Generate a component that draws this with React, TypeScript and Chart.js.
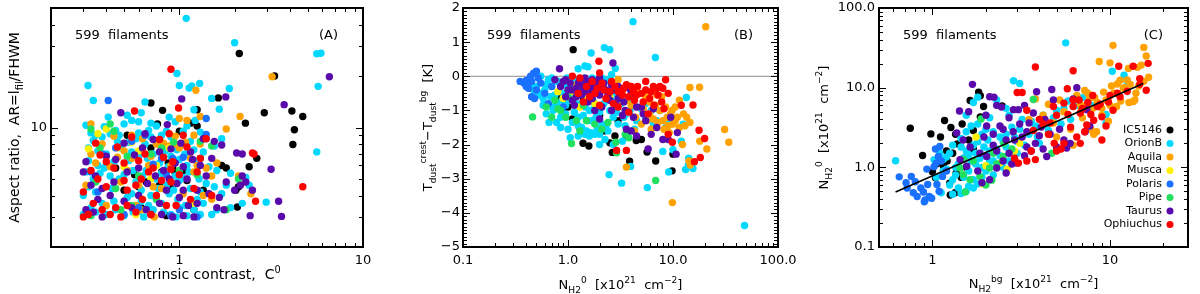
import React, { useEffect, useRef } from 'react';
import { Chart, registerables } from 'chart.js';

Chart.register(...registerables);

const FONT = '"DejaVu Sans", "Liberation Sans", sans-serif';

const regionNames = ['IC5146', 'OrionB', 'Aquila', 'Musca', 'Polaris', 'Pipe', 'Taurus', 'Ophiuchus'];
const regionColors = ['#000000', '#00d8ff', '#ffa200', '#fff000', '#1a70ff', '#20e060', '#5a0aaa', '#ff0000'];

// ---------- Panel A: intrinsic contrast C0 vs aspect ratio ----------
const aIC5146 = [[2.12,27.1],[3.3,20],[2.9,12.2],[4.1,12.5],[4.7,11.6],[2.29,10.6],[4.23,9.7],[4.15,7.95],[2.64,6.6],[1.63,14.9],[0.7,13.9],[0.81,12.6],[2.07,3.43],[2.03,4.3],[2.1,4.5],[0.76,10.5],[1.15,10.6],[1.25,12.7],[0.52,9.0],[0.57,5.3],[0.6,4.5],[0.5,4.3],[0.62,3.4],[0.66,4.8],[0.7,7.6],[0.85,3.05],[0.95,5.4],[0.98,5.2],[1.05,5.6],[1.35,4.3],[1.3,6.6],[1.8,5.8],[1.0,9.5],[1.25,10.2],[2.4,5.9],[0.45,5.8],[1.7,6.0],[0.9,4.4],[0.8,5.5],[0.87,6.2],[0.92,5.8],[1.1,4.9],[0.78,4.6],[1.2,3.3]];
const aOrionB = [[1.09,43.5],[2.0,31.3],[5.6,27.0],[5.9,27.2],[0.97,20.7],[5.7,17.4],[1.29,18.1],[1.13,17.0],[1.17,17.5],[1.0,17.6],[0.318,17.6],[0.34,14.4],[0.65,14.1],[1.87,16.9],[1.5,14.8],[1.2,12.7],[5.6,7.2],[2.97,3.66],[1.65,12.8],[0.31,10.3],[0.33,9.3],[0.35,9.0],[0.38,8.8],[0.42,9.2],[0.45,9.6],[0.5,10.5],[0.55,11.0],[0.6,10.8],[0.62,12.2],[0.7,10.6],[0.75,10.2],[0.8,9.0],[0.85,9.5],[0.95,10.8],[1.05,9.5],[1.1,10.2],[1.3,9.4],[1.4,8.6],[1.55,7.8],[1.7,8.6],[0.32,7.6],[0.36,7.3],[0.4,7.0],[0.48,7.6],[0.55,7.2],[0.6,6.8],[0.65,8.0],[0.72,7.0],[0.78,6.2],[0.9,6.8],[1.0,6.5],[1.1,6.0],[1.25,6.3],[1.45,5.9],[1.6,5.6],[1.9,5.4],[2.3,5.1],[0.31,5.5],[0.34,5.0],[0.37,5.4],[0.42,5.2],[0.5,5.3],[0.58,4.8],[0.66,5.6],[0.75,5.0],[0.85,4.6],[0.95,5.2],[1.0,4.9],[1.05,5.1],[1.15,4.4],[1.3,4.2],[0.3,3.1],[0.33,3.4],[0.38,3.6],[0.45,3.3],[0.52,3.9],[0.6,3.2],[0.68,3.5],[0.75,3.8],[0.82,3.2],[0.9,3.1],[1.0,3.4],[1.1,3.05],[1.2,3.3],[1.35,3.6],[1.5,3.1],[0.35,4.2],[0.43,4.4],[0.55,4.1],[0.62,4.3],[0.7,4.0],[0.88,4.1],[1.25,3.8],[1.7,4.1],[2.4,4.6],[0.41,11.5],[0.52,11.8],[0.68,9.6],[0.88,11.5],[1.22,11.0],[0.46,8.3],[0.58,8.6],[0.7,8.8],[0.32,6.4],[0.4,6.0],[0.84,7.3],[1.15,8.3],[0.3,4.0],[0.32,4.5],[0.36,6.0],[0.39,5.8],[0.44,6.3],[0.47,5.0],[0.53,6.4],[0.56,5.6],[0.63,5.2],[0.67,6.6],[0.73,5.9],[0.77,4.4],[0.8,5.4],[0.87,5.9],[0.93,4.3],[0.97,7.4],[1.07,7.0],[1.13,5.5],[1.18,3.6],[1.28,5.0],[1.4,4.7],[1.55,4.5],[1.8,4.6],[0.35,3.2],[0.4,3.1],[0.5,3.05],[0.56,3.2],[0.64,3.0],[0.72,3.3],[0.8,3.6],[0.96,3.0],[1.08,3.5],[1.3,3.1],[0.34,8.4],[0.39,10.1],[0.47,9.0],[0.53,8.2],[0.6,9.3],[0.76,8.4],[0.9,8.8],[1.02,7.9],[1.2,7.4],[1.35,7.2],[0.44,3.7],[0.62,3.7],[0.98,3.8],[1.6,3.3],[1.9,3.4],[2.2,3.6]];
const aAquila = [[3.2,19.8],[2.14,11.6],[1.23,16.5],[0.33,10.5],[0.31,4.6],[0.35,6.2],[0.38,8.0],[0.42,5.9],[0.46,6.7],[0.5,7.3],[0.55,9.0],[0.58,3.5],[0.63,8.6],[0.68,6.0],[0.72,4.5],[0.78,7.9],[0.82,8.1],[0.85,5.5],[0.88,7.8],[0.95,8.0],[1.0,11.3],[1.1,11.0],[1.2,9.0],[1.25,6.0],[1.35,4.0],[1.4,5.8],[1.5,3.8],[1.6,6.2],[1.8,9.8],[2.1,5.2],[2.45,4.1],[1.05,4.1],[0.62,3.3],[0.73,3.0],[1.3,11.6],[0.48,4.8],[0.75,8.0],[0.33,7.0],[0.44,8.9],[0.52,5.6],[0.6,4.6],[0.7,6.8],[0.9,6.0],[1.0,7.6],[1.15,6.6],[1.3,8.0],[1.5,5.2],[0.4,3.5],[0.8,4.4],[0.95,8.9],[1.08,8.2],[1.2,5.5],[0.55,6.6]];
const aMusca = [[0.32,7.5],[0.36,9.2],[0.4,9.8],[0.46,7.6],[0.5,5.9],[0.55,8.2],[0.58,3.1],[0.7,5.0],[0.88,7.6],[0.6,7.3],[1.2,3.6],[0.75,6.0]];
const aPolaris = [[0.41,14.4],[0.33,5.5],[0.36,4.2],[0.38,7.0],[0.45,7.6],[0.5,3.1],[0.55,8.3],[0.6,3.4],[0.65,9.0],[0.72,6.1],[0.8,6.6],[0.9,3.05],[0.92,6.6],[1.05,6.7],[1.25,3.0],[1.4,9.1],[1.4,11.3],[1.0,3.3],[0.85,5.3]];
const aPipe = [[0.33,9.8],[0.37,7.6],[0.42,10.5],[0.44,9.5],[0.45,4.4],[0.52,6.8],[0.6,5.2],[0.7,7.0],[0.75,3.8],[0.8,7.6],[0.93,8.2],[1.0,5.6],[1.25,5.3],[1.3,8.3],[1.8,3.3],[0.35,4.8],[0.48,3.3],[0.33,3.05],[0.55,3.5],[2.1,5.0],[1.5,7.8]];
const aTaurus = [[6.56,19.8],[3.72,13.6],[3.16,5.7],[3.47,3.7],[3.6,3.02],[2.43,3.05],[2.2,7.0],[1.79,15.1],[1.03,14.7],[0.31,6.3],[0.3,5.5],[0.33,4.6],[0.36,3.8],[0.34,3.2],[0.38,3.0],[0.42,4.0],[0.45,6.5],[0.48,12.2],[0.5,8.1],[0.55,3.4],[0.6,5.8],[0.63,7.6],[0.67,4.7],[0.72,8.5],[0.78,7.2],[0.82,5.6],[0.85,4.3],[0.9,7.5],[0.92,3.0],[0.95,6.2],[1.0,3.9],[1.02,8.1],[1.05,3.05],[1.1,5.0],[1.15,7.2],[1.2,3.0],[1.3,6.0],[1.35,8.6],[1.45,4.1],[1.55,8.3],[1.6,3.4],[1.65,3.9],[1.75,3.3],[2.0,4.3],[2.05,7.1],[2.3,4.8],[2.5,4.3],[0.86,10.4],[0.65,9.2],[0.4,6.8],[1.7,7.9],[0.78,3.6],[0.7,3.1],[1.25,4.3],[1.05,5.9],[2.2,5.2],[2.15,4.6],[0.31,3.3],[0.35,5.2],[0.44,4.8],[0.52,5.5],[0.57,6.9],[0.66,3.3],[0.74,5.2],[0.8,3.1],[0.88,5.0],[0.97,4.7],[1.12,3.5],[1.18,6.5],[1.25,3.6],[1.4,5.2],[1.5,6.6],[1.8,4.8],[0.6,4.0],[0.5,3.7],[1.05,4.3],[0.38,4.4]];
const aOphiuchus = [[0.9,21.9],[4.7,4.5],[2.5,7.1],[0.57,12.5],[0.99,13.0],[0.3,3.0],[0.32,3.1],[0.33,5.6],[0.35,8.1],[0.37,6.9],[0.4,4.5],[0.42,3.1],[0.44,5.8],[0.46,7.7],[0.48,3.0],[0.5,6.2],[0.52,4.3],[0.55,8.8],[0.58,3.2],[0.6,6.4],[0.62,5.0],[0.65,7.0],[0.7,3.1],[0.75,4.0],[0.78,8.5],[0.82,6.7],[0.88,9.2],[0.9,4.8],[0.92,6.3],[1.0,5.3],[1.05,9.0],[1.1,7.7],[1.2,4.4],[1.3,6.6],[1.4,8.6],[1.5,4.0],[2.6,3.7],[2.55,7.0],[0.68,5.5],[0.85,3.5],[0.58,4.6],[0.3,4.2],[0.34,3.6],[0.38,3.3],[0.45,3.4],[0.52,3.5],[0.63,3.8],[0.72,5.8],[0.8,4.9],[0.96,3.5],[1.15,3.8],[0.4,6.3],[0.5,4.9],[0.9,5.7],[1.25,5.5],[0.36,5.0]];

// ---------- Panel B: N_H2^0 vs T_dust difference ----------
const bIC5146 = [[1.12,0.78],[1.29,-1.5],[1.39,-1.96],[1.58,-2.04],[2.64,-2.23],[2.5,-1.95],[3.86,-2.49],[6.84,-2.48],[9.8,-2.77],[10,-2.28],[5.66,-2.22],[4.47,-1.88],[3.6,-1.75],[0.45,-0.35],[0.8,-0.6],[0.9,-1.05],[1.0,-0.9],[1.1,-1.25],[2.2,-1.6],[3.0,-1.3],[2.0,-1.15],[5.0,-1.85],[1.4,-0.7],[2.8,-1.75]];
const bOrionB = [[4.16,1.6],[2.22,0.84],[2.5,0.78],[1.66,0.68],[6.8,0.55],[1.25,0.22],[1.45,0.3],[1.55,0.28],[2.82,0.23],[0.48,0.08],[0.55,0.0],[0.65,-0.1],[0.7,-0.3],[0.75,-0.55],[0.6,-0.4],[0.8,-0.15],[0.9,-0.5],[0.95,-0.85],[1.0,-0.3],[1.1,-0.6],[1.15,-1.05],[1.2,-0.1],[1.3,-0.45],[1.35,-0.8],[1.4,-1.15],[1.5,-1.6],[1.6,-0.5],[1.7,-1.3],[1.8,-0.9],[1.9,-1.55],[2.0,-1.7],[2.2,-0.35],[2.3,-1.45],[2.5,-1.0],[2.7,-1.2],[2.8,-0.5],[3.0,-1.4],[3.3,-1.9],[3.6,-1.1],[4.0,-0.7],[4.5,-1.3],[5.0,-0.95],[5.5,-1.2],[6.5,-1.4],[7.5,-1.0],[8.0,-2.2],[8.5,-1.5],[12.5,-1.4],[13.4,-0.62],[14.1,-2.4],[15.5,-2.7],[13.2,-2.73],[48,-4.37],[5.7,-3.26],[3.24,-3.13],[2.46,-2.88],[3.95,-2.64],[9.1,-2.8],[10,-2.15],[2.7,-2.0],[0.85,-1.2],[0.78,-1.35],[0.62,-1.1],[0.72,-0.9],[0.52,-0.55],[0.45,-0.3],[0.58,-0.65],[1.05,-1.8],[1.25,-1.75],[1.45,-1.7],[1.65,-1.65],[1.8,-1.7],[3.5,-1.45],[2.1,-0.05],[1.9,-0.25],[0.98,-0.05],[6.2,-1.0],[0.4,-0.2],[0.5,-0.3],[0.55,-0.5],[0.62,-0.25],[0.68,-0.6],[0.7,-0.05],[0.78,-0.8],[0.82,-0.45],[0.88,-0.7],[0.95,-1.1],[1.0,-0.7],[1.05,-0.4],[1.1,-1.35],[1.2,-0.8],[1.25,-1.2],[1.35,-1.5],[1.45,-0.9],[1.55,-1.3],[1.6,-1.0],[1.75,-0.75],[1.85,-1.2],[2.0,-1.05],[2.1,-1.4],[2.2,-0.8],[2.4,-1.6],[2.6,-0.7],[2.9,-1.05],[3.2,-0.8],[3.4,-1.2],[3.9,-1.0],[4.3,-1.55],[0.58,-0.85],[0.66,-1.35],[0.85,-1.5],[0.92,-0.25],[1.15,-0.2],[1.3,-0.1],[1.7,-0.05],[2.4,-0.1],[2.6,0.05],[0.48,-0.45],[0.72,-1.0],[1.0,-1.55],[1.25,-1.45],[1.6,-1.75],[2.0,-2.0],[2.25,-1.85],[5.5,-0.8],[7.0,-1.3],[9.0,-1.35],[12,-1.9],[14,-2.6]];
const bAquila = [[20.5,1.45],[17.9,-0.32],[3.0,-0.1],[3.3,-0.4],[3.6,-0.7],[4.0,-0.85],[4.4,-1.2],[4.8,-0.5],[5.2,-0.95],[5.6,-1.3],[6.0,-0.75],[6.5,-1.25],[7.0,-0.55],[7.5,-1.0],[8.0,-1.3],[8.5,-0.9],[9.0,-1.45],[9.5,-1.1],[10.0,-1.4],[11.0,-1.2],[12.6,-1.1],[13.5,-1.2],[14.5,-1.35],[12.3,-2.0],[14.2,-2.48],[14.6,-2.6],[21,-2.13],[31,-1.56],[34,-1.93],[9.86,-3.7],[3.6,-2.66],[14.5,-0.33],[11.5,-0.7],[10.5,-0.9],[9.2,-1.65],[8.2,-1.55],[7.2,-1.35],[6.2,-1.55],[5.0,-1.4],[4.3,-1.6],[13.0,-1.45],[18,-1.9],[3.1,-0.6],[2.8,-0.35],[3.8,-0.3],[4.2,-0.55],[5.5,-0.6],[6.8,-0.85],[7.8,-0.6],[8.8,-1.2],[9.8,-1.0],[11.5,-1.5],[10.5,-1.3],[6.0,-1.1]];
const bMusca = [[0.9,-0.65],[1.1,-0.45],[1.3,-0.9],[1.5,-0.7],[1.2,-0.25],[2.5,-0.6],[3.0,-0.85],[0.8,-0.45],[1.8,-0.8]];
const bPolaris = [[0.5,0.15],[0.47,0.09],[0.44,0.0],[0.35,-0.15],[0.38,-0.2],[0.4,-0.12],[0.42,-0.35],[0.45,-0.6],[0.48,-0.65],[0.4,-0.3],[0.5,-0.4],[0.55,-0.2],[0.6,-0.5],[0.45,-0.15],[0.65,-0.8],[0.7,-0.3],[0.9,-0.9],[0.52,-0.05]];
const bPipe = [[0.46,-1.19],[1.08,-1.97],[2.9,-2.24],[2.86,-1.93],[6.84,-3.05],[0.62,-0.9],[0.7,-1.2],[0.75,-0.7],[0.8,-0.95],[0.85,-1.0],[0.95,-1.2],[1.2,-1.3],[1.4,-0.85],[1.5,-1.3],[1.8,-1.4],[2.1,-1.55],[2.4,-1.35],[3.5,-1.7],[3.8,-1.8],[1.3,-1.6],[1.0,-0.6]];
const bTaurus = [[2.68,0.39],[0.83,0.22],[0.75,-0.1],[0.85,-0.3],[0.9,-0.15],[1.0,-0.4],[1.05,-0.2],[1.1,-0.7],[1.2,-0.35],[1.3,-0.1],[1.35,-0.55],[1.4,-0.3],[1.45,-0.05],[1.5,-0.45],[1.6,-0.2],[1.7,-0.65],[1.75,-0.35],[1.9,-0.15],[2.0,-0.55],[2.1,-0.9],[2.3,-0.4],[2.5,-0.7],[2.6,-0.25],[2.9,-0.85],[3.2,-0.5],[3.5,-1.0],[3.8,-0.35],[4.0,-1.6],[4.2,-1.2],[4.5,-1.75],[5.0,-0.9],[5.5,-1.3],[5.8,-2.13],[6.2,-1.7],[7.0,-1.5],[8.0,-1.85],[9.0,-1.85],[10.7,-2.28],[11,-1.65],[9.5,-1.2],[2.0,-1.25],[3.0,-0.3],[1.15,-0.85],[0.95,-0.6],[1.55,-0.75],[2.2,-0.2],[1.8,-1.0],[3.6,-1.55],[6.5,-0.95],[0.95,-0.1],[1.1,-0.4],[1.25,-0.2],[1.4,-0.45],[1.6,-0.4],[1.8,-0.3],[2.05,-0.35],[2.4,-0.55],[2.7,-0.4],[3.0,-0.65],[3.4,-0.75],[4.0,-0.5],[4.5,-0.9],[5.2,-1.1],[1.5,-0.15],[1.7,-0.1],[2.0,-0.05],[1.2,-0.6],[2.6,-1.0],[3.3,-1.15]];
const bOphiuchus = [[1.97,0.44],[2.0,0.1],[1.1,0.0],[1.3,-0.05],[1.5,-0.3],[1.7,-0.15],[1.8,-0.5],[2.1,-0.2],[2.3,-0.65],[2.5,-0.45],[2.8,-0.3],[3.0,-0.9],[3.3,-0.55],[3.6,-0.25],[4.0,-0.3],[4.3,-0.7],[4.6,-0.3],[5.0,-0.5],[5.5,-0.4],[6.0,-0.65],[6.5,-0.3],[7.0,-0.35],[7.5,-0.3],[8.0,-0.35],[8.5,-0.1],[6.6,-0.85],[7.8,-0.75],[5.8,-1.1],[9.0,-1.7],[9.86,-1.93],[12.0,-0.85],[15.5,-0.84],[17.7,-1.58],[20,-1.82],[18.2,-2.38],[16,-2.5],[2.9,-2.17],[3.6,-2.17],[1.4,-0.75],[2.0,-0.85],[3.8,-1.05],[4.5,-0.55],[8.2,-0.95],[1.25,-0.5],[1.6,-0.6],[2.2,-0.4],[2.6,-0.15],[3.0,-0.45],[3.4,-0.35],[3.8,-0.6],[4.2,-0.45],[5.2,-0.75],[6.2,-0.45],[7.2,-0.55],[1.9,-0.35],[2.7,-0.8],[5.5,-0.15],[9.0,-0.5]];

// ---------- Panel C: N_H2^bg vs N_H2^0 ----------
const cIC5146 = [[0.75,3.1],[0.88,1.41],[0.98,2.63],[1.04,0.74],[1.11,2.4],[1.0,0.88],[1.05,1.1],[1.1,1.15],[1.17,3.87],[1.2,1.6],[1.27,3.16],[1.35,2.6],[1.38,1.97],[1.25,0.63],[1.26,0.45],[1.34,0.48],[1.47,3.5],[1.63,6.9],[1.82,8.8],[1.86,7.9],[1.94,5.8],[1.86,4.3],[2.47,5.9],[1.36,0.85],[1.21,1.2],[1.15,1.05],[1.3,1.5],[1.5,1.3],[1.6,2.2],[1.7,1.7],[1.55,1.0],[1.45,0.75],[1.7,2.9]];
const cOrionB = [[0.62,1.21],[5.63,36.5],[2.86,12.2],[3.1,11.3],[10.3,16.1],[12,14.3],[1.8,7.6],[1.7,6.5],[2.3,7.0],[1.55,4.5],[1.25,1.5],[1.1,1.5],[1.02,1.25],[1.15,1.25],[1.3,0.7],[1.3,0.46],[1.45,0.47],[1.55,0.5],[1.6,0.58],[1.7,0.55],[1.8,0.62],[1.9,0.75],[2.0,0.9],[1.4,1.1],[1.5,1.3],[1.6,1.45],[1.7,1.9],[1.8,2.1],[1.9,2.6],[2.0,3.0],[2.1,1.6],[2.2,1.2],[2.4,2.4],[2.6,1.8],[2.8,3.2],[3.0,2.1],[3.2,4.0],[3.5,2.6],[3.8,3.3],[4.2,4.5],[4.5,2.9],[5.0,5.2],[5.5,5.5],[6.0,4.0],[6.5,6.0],[7.0,7.5],[8.0,6.0],[9.5,3.6],[9.5,4.6],[12.5,12.0],[2.2,0.8],[2.5,1.0],[1.35,0.8],[1.2,0.95],[3.0,1.5],[4.0,2.0],[1.65,3.3],[2.7,4.5],[1.45,1.8],[1.75,1.1],[2.0,1.4],[1.12,0.48],[1.25,0.6],[1.35,1.0],[1.4,0.55],[1.5,0.75],[1.55,1.6],[1.6,0.9],[1.65,1.2],[1.7,0.7],[1.75,1.5],[1.85,1.3],[1.9,1.0],[1.95,1.8],[2.05,2.2],[2.1,1.2],[2.2,2.8],[2.3,1.7],[2.4,1.4],[2.5,2.1],[2.6,2.6],[2.7,1.2],[2.9,2.4],[3.1,3.0],[3.3,1.9],[3.6,3.8],[3.9,2.4],[4.4,3.4],[4.8,4.2],[5.3,3.5],[1.05,0.75],[1.15,0.9],[1.2,1.35],[1.3,1.9],[1.45,2.3],[1.55,2.8],[1.8,3.5],[2.1,4.2],[2.6,5.5],[5.8,6.8],[7.5,5.3]];
const cAquila = [[10.4,34],[15.5,32],[8.7,21.3],[10,20.5],[12.7,17.4],[14.3,18],[15,19.2],[11,11.1],[11.4,12.4],[11.9,9.8],[7.7,7.4],[7.2,9.2],[6.9,5.3],[10.9,5.8],[13.8,7.0],[13.5,6.7],[8.1,2.6],[8.4,2.8],[6.2,1.9],[5.0,2.4],[4.8,3.6],[3.8,7.2],[6.5,8.0],[7.5,8.5],[8.0,5.5],[8.5,6.5],[9.0,4.5],[9.5,7.0],[10.5,8.5],[12,10.0],[12.5,12.5],[5.5,5.0],[6.0,3.0],[7.0,4.2],[7.8,3.0],[9.0,5.5],[10,6.0],[4.2,4.5],[5.2,7.0],[16,25],[14,8.5],[16.5,13.5],[3.5,4.0],[4.5,6.2],[12.8,6.5],[6.8,6.2],[7.3,5.8],[8.2,7.5],[9.2,8.8],[10.2,10.5],[11.5,6.8],[13,11],[14.5,10.5],[15.5,12],[9.8,3.8]];
const cMusca = [[1.76,2.4],[1.92,0.62],[2.64,0.95],[2.4,1.13],[3.1,2.0],[2.0,1.05],[2.9,1.6]];
const cPolaris = [[0.65,0.76],[0.71,0.64],[0.76,0.77],[0.8,0.66],[0.78,0.48],[0.82,0.43],[0.89,0.49],[0.91,0.39],[0.96,0.43],[0.9,0.37],[0.99,0.41],[0.94,0.61],[1.06,0.61],[1.08,1.37],[1.05,1.13],[1.09,0.5],[1.14,0.77],[1.04,1.7],[1.1,1.83],[0.86,0.55],[0.93,0.95],[1.02,1.02],[1.2,0.9],[0.72,0.55],[1.12,1.2]];
const cPipe = [[1.49,0.81],[1.43,0.98],[1.53,0.49],[1.63,0.7],[1.85,0.77],[1.88,4.05],[2.1,0.98],[2.16,0.69],[2.53,2.0],[3.7,7.1],[4.7,1.5],[2.5,1.37],[2.3,1.1],[1.7,1.2],[2.0,0.6],[2.8,1.7],[1.5,1.25],[2.2,1.5]];
const cTaurus = [[1.68,11],[1.6,5.0],[1.42,5.1],[2.1,7.7],[2.22,7.6],[2.02,3.3],[2.3,6.0],[2.45,5.7],[2.86,5.3],[3.05,5.3],[3.86,8.9],[4.7,9.5],[6.2,7.2],[4.8,7.0],[2.6,2.2],[2.2,2.6],[1.85,1.5],[1.9,0.64],[2.1,0.7],[2.3,0.98],[2.6,0.85],[3.0,1.13],[3.4,1.8],[4.4,1.37],[5.0,1.8],[5.7,1.75],[5.96,2.0],[7.7,3.3],[7.25,2.8],[1.37,2.7],[1.49,2.2],[1.63,1.8],[1.43,1.25],[1.56,1.03],[2.4,3.3],[2.0,4.5],[2.85,2.8],[3.7,4.8],[7.4,5.3],[2.02,1.37],[2.7,1.5],[3.2,2.4],[3.5,3.6],[4.0,2.5],[4.3,4.0],[2.5,1.2],[1.8,0.9],[6.5,10],[3.3,1.4],[2.2,1.9],[2.5,3.0],[2.9,2.2],[3.1,3.5],[3.4,2.8],[3.8,2.0],[4.1,3.2],[4.6,2.6],[5.2,3.0],[2.7,4.2],[3.3,6.0],[2.8,1.1],[3.6,1.6],[4.2,1.7],[5.5,2.2],[2.3,1.6],[1.95,2.4]];
const cOphiuchus = [[3.8,18.2],[11.2,18.6],[13.5,18.6],[16.4,20.2],[14.7,13],[14.7,11],[6.2,16.3],[5.75,9.7],[6.7,7],[3.0,8.7],[3.2,8.7],[3.05,1.13],[3.4,1.2],[3.8,1.25],[4.85,2.0],[5.5,2.0],[7.4,3.4],[9.0,2.2],[8.1,3.9],[9.0,4.3],[10.4,5.2],[11.4,7.7],[16,9.3],[4.8,5.8],[5.5,6.4],[6.2,7.0],[3.4,5.2],[3.7,2.9],[2.9,1.3],[5.0,4.5],[6.0,3.2],[6.5,2.4],[7.0,5.5],[7.5,6.5],[8.0,8.0],[8.5,5.8],[4.2,3.5],[4.5,2.6],[6.8,4.8],[9.5,3.3],[5.3,1.7],[3.6,1.6],[10,8.0],[12.5,9.0],[7.2,2.8],[4.0,4.0],[4.6,3.6],[5.8,4.6],[6.2,5.8],[7.8,4.6],[8.8,6.2],[9.8,6.6],[11,8.5],[6.8,2.0],[5.0,1.6]];

// Power-law fit line in panel C (end points)
const fitX = [0.62, 15.4];
const fitY = [0.49, 11.3];
// Zero line in panel B
const zeroX = [0.1, 100];
const zeroY = [0, 0];

// Tick values and labels
const aXMajor = [1, 10];
const aXLabels = ['1', '10'];
const aXMinor = [0.2, 0.3, 0.4, 0.5, 0.6, 0.7, 0.8, 0.9, 2, 3, 4, 5, 6, 7, 8, 9];
const aYMajor = [10];
const aYLabels = ['10'];
const aYMinor = [2, 3, 4, 5, 6, 7, 8, 9, 20, 30, 40, 50];
const bXMajor = [0.1, 1, 10, 100];
const bXLabels = ['0.1', '1.0', '10.0', '100.0'];
const bYMajor = [-5, -4, -3, -2, -1, 0, 1, 2];
const bYLabels = ['\u22125', '\u22124', '\u22123', '\u22122', '\u22121', '0', '1', '2'];
const cXMajor = [1, 10];
const cXLabels = ['1', '10'];
const cXMinor = [0.5, 0.6, 0.7, 0.8, 0.9, 2, 3, 4, 5, 6, 7, 8, 9, 20];
const cYMajor = [0.1, 1, 10, 100];
const cYLabels = ['0.1', '1.0', '10.0', '100.0'];

function logMinors(decades: number[]) {
  const out: number[] = [];
  for (const d of decades) for (let k = 2; k <= 9; k++) out.push(k * d);
  return out;
}
function linMinors(lo: number, hi: number, step: number) {
  const out: number[] = [];
  const n = Math.round((hi - lo) / step);
  for (let i = 0; i <= n; i++) {
    const v = lo + i * step;
    if (Math.abs(v - Math.round(v)) > 1e-6) out.push(v);
  }
  return out;
}

type Seg = { t: string; k?: 'b' | 'p' };
type AxisSpec = { type: string; min: number; max: number; major: number[]; labels: string[]; minor: number[]; pad: number };
type PanelSpec = {
  left: number; width: number;
  area: { l: number; r: number; t: number; b: number };
  x: AxisSpec; y: AxisSpec;
  series: number[][][];
  xTitle: Seg[]; yTitle: Seg[]; titleSize: number;
  xTitleBase: number; yTitleBase: number;
  tag: string; legend: boolean;
  lines: { xs: number[]; ys: number[]; color: string; width: number; order: number }[];
};

const unitSegs: Seg[] = [{ t: '  [x10' }, { t: '21', k: 'p' }, { t: '  cm' }, { t: '\u22122', k: 'p' }, { t: ']' }];

const panels: PanelSpec[] = [
  {
    left: 0, width: 400,
    area: { l: 51, r: 363, t: 8, b: 247 },
    x: { type: 'logarithmic', min: 0.2, max: 10, major: aXMajor, labels: aXLabels, minor: aXMinor, pad: 6 },
    y: { type: 'logarithmic', min: 2, max: 50, major: aYMajor, labels: aYLabels, minor: aYMinor, pad: 4 },
    series: [aIC5146, aOrionB, aAquila, aMusca, aPolaris, aPipe, aTaurus, aOphiuchus],
    xTitle: [{ t: 'Intrinsic contrast,  C' }, { t: '0', k: 'p' }],
    yTitle: [{ t: 'Aspect ratio,  AR=l' }, { t: 'fil', k: 'b' }, { t: '/FHWM' }],
    titleSize: 14, xTitleBase: 279, yTitleBase: 19,
    tag: '(A)', legend: false, lines: [],
  },
  {
    left: 400, width: 400,
    area: { l: 63, r: 378, t: 8, b: 247 },
    x: { type: 'logarithmic', min: 0.1, max: 100, major: bXMajor, labels: bXLabels, minor: logMinors([0.1, 1, 10]), pad: 6 },
    y: { type: 'linear', min: -5, max: 2, major: bYMajor, labels: bYLabels, minor: linMinors(-5, 2, 0.1), pad: 3 },
    series: [bIC5146, bOrionB, bAquila, bMusca, bPolaris, bPipe, bTaurus, bOphiuchus],
    xTitle: [{ t: 'N' }, { t: 'H2', k: 'b' }, { t: '0', k: 'p' }, ...unitSegs],
    yTitle: [{ t: 'T' }, { t: 'dust', k: 'b' }, { t: 'crest', k: 'p' }, { t: '\u2212T' }, { t: 'dust', k: 'b' }, { t: 'bg', k: 'p' }, { t: '  [K]' }],
    titleSize: 13, xTitleBase: 289, yTitleBase: 32,
    tag: '(B)', legend: false,
    lines: [{ xs: zeroX, ys: zeroY, color: '#8a8a8a', width: 1, order: 100 }],
  },
  {
    left: 800, width: 400,
    area: { l: 79, r: 388, t: 8, b: 247 },
    x: { type: 'logarithmic', min: 0.5, max: 27.5, major: cXMajor, labels: cXLabels, minor: cXMinor, pad: 6 },
    y: { type: 'logarithmic', min: 0.1, max: 100, major: cYMajor, labels: cYLabels, minor: logMinors([0.1, 1, 10]), pad: 4 },
    series: [cIC5146, cOrionB, cAquila, cMusca, cPolaris, cPipe, cTaurus, cOphiuchus],
    xTitle: [{ t: 'N' }, { t: 'H2', k: 'b' }, { t: 'bg', k: 'p' }, ...unitSegs],
    yTitle: [{ t: 'N' }, { t: 'H2', k: 'b' }, { t: '0', k: 'p' }, ...unitSegs],
    titleSize: 13, xTitleBase: 288, yTitleBase: 28,
    tag: '(C)', legend: true,
    lines: [{ xs: fitX, ys: fitY, color: '#000000', width: 1.6, order: -1 }],
  },
];

function drawRich(ctx: CanvasRenderingContext2D, segs: Seg[], size: number, x: number, y: number, rotate: boolean) {
  ctx.save();
  ctx.translate(x, y);
  if (rotate) ctx.rotate(-Math.PI / 2);
  ctx.textAlign = 'left';
  ctx.textBaseline = 'alphabetic';
  ctx.fillStyle = '#000';
  let w = 0;
  for (const s of segs) {
    ctx.font = `${s.k ? size * 0.7 : size}px ${FONT}`;
    w += ctx.measureText(s.t).width;
  }
  let cx = -w / 2;
  for (const s of segs) {
    ctx.font = `${s.k ? size * 0.7 : size}px ${FONT}`;
    const dy = s.k === 'b' ? size * 0.3 : s.k === 'p' ? -size * 0.45 : 0;
    ctx.fillText(s.t, cx, dy);
    cx += ctx.measureText(s.t).width;
  }
  ctx.restore();
}

function axisOptions(a: AxisSpec, horizontal: boolean, size: number) {
  return {
    type: a.type,
    position: horizontal ? 'bottom' : 'left',
    min: a.min,
    max: a.max,
    grid: { display: false, drawTicks: false },
    border: { display: false },
    ticks: {
      autoSkip: false,
      maxRotation: 0,
      minRotation: 0,
      padding: a.pad,
      color: '#000',
      font: { family: FONT, size: 13 },
      callback: (_v: any, i: number) => a.labels[i],
    },
    afterBuildTicks: (s: any) => {
      s.ticks = a.major.map((v) => ({ value: v }));
    },
    afterFit: (s: any) => {
      if (horizontal) s.height = size;
      else s.width = size;
      s.paddingLeft = 0; s.paddingRight = 0; s.paddingTop = 0; s.paddingBottom = 0;
    },
  };
}

function makeChart(canvas: HTMLCanvasElement, p: PanelSpec) {
  const datasets: any[] = [];
  p.lines.forEach((ln) => {
    datasets.push({
      type: 'line', label: '', data: ln.xs.map((x, i) => ({ x, y: ln.ys[i] })),
      borderColor: ln.color, borderWidth: ln.width, pointRadius: 0, fill: false, order: ln.order,
    });
  });
  regionNames.forEach((name, i) => {
    datasets.push({
      type: 'scatter', label: name,
      data: p.series[i].map(([x, y]) => ({ x, y })),
      backgroundColor: regionColors[i], borderColor: regionColors[i], borderWidth: 0,
      pointRadius: 3.7, pointHoverRadius: 3.7, order: 20 - i,
    });
  });

  const decor = {
    id: 'decor',
    afterDatasetsDraw(chart: any) {
      const { ctx, chartArea: a, scales } = chart;
      const xs = scales.x, ys = scales.y;
      ctx.save();
      ctx.strokeStyle = '#000';
      ctx.lineWidth = 1;
      ctx.beginPath();
      const xt = (vals: number[], len: number) => {
        for (const v of vals) {
          const px = Math.round(xs.getPixelForValue(v)) + 0.5;
          ctx.moveTo(px, a.bottom); ctx.lineTo(px, a.bottom - len);
          ctx.moveTo(px, a.top); ctx.lineTo(px, a.top + len);
        }
      };
      const yt = (vals: number[], len: number) => {
        for (const v of vals) {
          const py = Math.round(ys.getPixelForValue(v)) + 0.5;
          ctx.moveTo(a.left, py); ctx.lineTo(a.left + len, py);
          ctx.moveTo(a.right, py); ctx.lineTo(a.right - len, py);
        }
      };
      xt(p.x.major, 7); xt(p.x.minor, 4);
      yt(p.y.major, 7); yt(p.y.minor, 4);
      ctx.stroke();
      ctx.lineWidth = 2;
      ctx.strokeRect(a.left, a.top, a.right - a.left, a.bottom - a.top);
      ctx.restore();
    },
    afterDraw(chart: any) {
      const { ctx, chartArea: a } = chart;
      drawRich(ctx, p.xTitle, p.titleSize, (a.left + a.right) / 2, p.xTitleBase, false);
      drawRich(ctx, p.yTitle, p.titleSize, p.yTitleBase, (a.top + a.bottom) / 2, true);
      ctx.save();
      ctx.fillStyle = '#000';
      ctx.font = `13px ${FONT}`;
      ctx.textBaseline = 'alphabetic';
      ctx.textAlign = 'left';
      ctx.fillText('599  filaments', a.left + 24, 39);
      ctx.textAlign = 'right';
      ctx.fillText(p.tag, a.right - 25, 39);
      if (p.legend) {
        ctx.font = `11px ${FONT}`;
        ctx.textBaseline = 'middle';
        const items = chart.data.datasets.filter((d: any) => regionNames.includes(d.label));
        items.forEach((d: any, i: number) => {
          const y = 130 + i * 13.5;
          ctx.fillStyle = '#000';
          ctx.fillText(d.label, a.right - 26, y);
          ctx.fillStyle = d.backgroundColor;
          ctx.beginPath();
          ctx.arc(a.right - 18, y, 3.5, 0, Math.PI * 2);
          ctx.fill();
        });
      }
      ctx.restore();
    },
  };

  return new Chart(canvas, {
    type: 'scatter',
    data: { datasets },
    options: {
      responsive: false,
      animation: false,
      devicePixelRatio: 1,
      layout: {
        autoPadding: false,
        padding: { left: 0, top: p.area.t, right: p.width - p.area.r, bottom: 0 },
      },
      plugins: { legend: { display: false }, tooltip: { enabled: false }, title: { display: false } },
      events: [],
      scales: {
        x: axisOptions(p.x, true, 294 - p.area.b) as any,
        y: axisOptions(p.y, false, p.area.l) as any,
      },
    } as any,
    plugins: [decor],
  });
}

function Panel({ spec }: { spec: PanelSpec }) {
  const ref = useRef<HTMLCanvasElement>(null);
  useEffect(() => {
    if (!ref.current) return;
    const chart = makeChart(ref.current, spec);
    return () => chart.destroy();
  }, [spec]);
  return (
    <canvas
      ref={ref}
      width={spec.width}
      height={294}
      style={{ position: 'absolute', left: spec.left, top: 0, width: spec.width, height: 294 }}
    />
  );
}

export default function App() {
  return (
    <div style={{ position: 'absolute', left: 0, top: 0, width: 1200, height: 294, background: '#fff', overflow: 'hidden' }}>
      {panels.map((p, i) => (
        <Panel key={i} spec={p} />
      ))}
    </div>
  );
}
